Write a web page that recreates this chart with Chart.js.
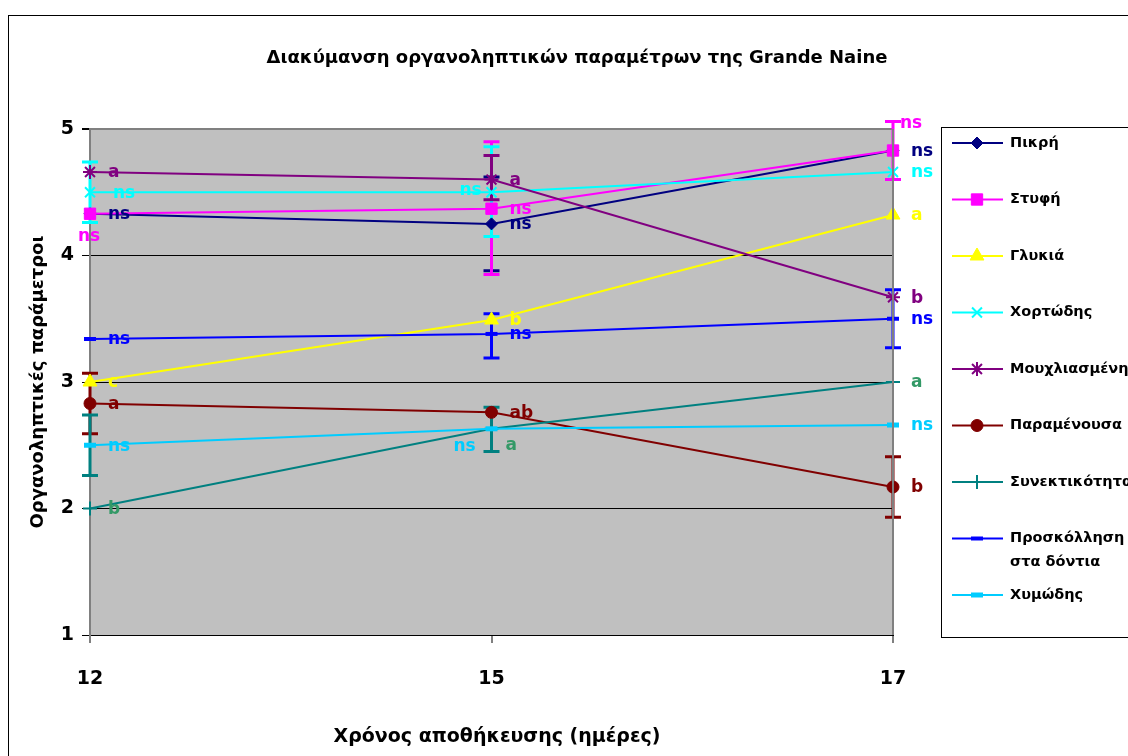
<!DOCTYPE html>
<html>
<head>
<meta charset="utf-8">
<script src="https://cdn.jsdelivr.net/npm/chart.js@4.4.1/dist/chart.umd.min.js"></script>
<style>
  html, body { margin: 0; padding: 0; background: #fff; }
  canvas { display: block; }
</style>
</head>
<body>
<canvas id="chart" width="1128" height="756"></canvas>
<script>
// Storage time (days) and score axis
const days = ['12', '15', '17'];
const yTicks = [1, 2, 3, 4, 5];

const seriesNames = ['Πικρή', 'Στυφή', 'Γλυκιά', 'Χορτώδης', 'Μουχλιασμένη',
  'Παραμένουσα', 'Συνεκτικότητα', ['Προσκόλληση', 'στα δόντια'], 'Χυμώδης'];

// Mean scores per day
const pikri = [4.33, 4.25, 4.83];
const styfi = [4.33, 4.37, 4.83];
const glykia = [3.0, 3.49, 4.32];
const chortodis = [4.5, 4.5, 4.66];
const mouchliasmeni = [4.66, 4.6, 3.67];
const paramenousa = [2.83, 2.76, 2.17];
const synektikotita = [2.0, 2.63, 3.0];
const proskollisi = [3.34, 3.38, 3.5];
const chymodis = [2.5, 2.63, 2.66];

// Error bars [low, high] per day, null = none
const pikriErr = [null, [3.88, 4.62], null];
const styfiErr = [null, [3.85, 4.9], [4.6, 5.06]];
const glykiaErr = [null, null, null];
const chortodisErr = [[4.26, 4.74], [4.15, 4.86], null];
const mouchliasmeniErr = [null, [4.44, 4.79], null];
const paramenousaErr = [[2.59, 3.07], null, [1.93, 2.41]];
const synektikotitaErr = [[2.26, 2.74], [2.45, 2.8], null];
const proskollisiErr = [null, [3.19, 3.54], [3.27, 3.73]];
const chymodisErr = [null, null, null];

// Significance letters
const pikriSig = ['ns', 'ns', 'ns'];
const styfiSig = ['ns', 'ns', 'ns'];
const glykiaSig = ['c', 'b', 'a'];
const chortodisSig = ['ns', 'ns', 'ns'];
const mouchliasmeniSig = ['a', 'a', 'b'];
const paramenousaSig = ['a', 'ab', 'b'];
const synektikotitaSig = ['b', 'a', 'a'];
const proskollisiSig = ['ns', 'ns', 'ns'];
const chymodisSig = ['ns', 'ns', 'ns'];

const values = [pikri, styfi, glykia, chortodis, mouchliasmeni, paramenousa, synektikotita, proskollisi, chymodis];
const errors = [pikriErr, styfiErr, glykiaErr, chortodisErr, mouchliasmeniErr, paramenousaErr, synektikotitaErr, proskollisiErr, chymodisErr];
const letters = [pikriSig, styfiSig, glykiaSig, chortodisSig, mouchliasmeniSig, paramenousaSig, synektikotitaSig, proskollisiSig, chymodisSig];

// styles
const colors = ['#000080', '#FF00FF', '#FFFF00', '#00FFFF', '#800080', '#800000', '#008080', '#0000FF', '#00CCFF'];
const letterColors = ['#000080', '#FF00FF', '#FFFF00', '#00FFFF', '#800080', '#800000', '#339966', '#0000FF', '#00CCFF'];
const pointStyles = ['rectRot', 'rect', 'triangle', 'crossRot', 'star', 'circle', 'cross', 'line', 'line'];
const pointRadii = [6, 8, 8, 7, 7, 6, 7, 6, 6];
const pointBorders = [1, 1, 1, 2, 2, 1, 2, 4, 5];
// letter offsets that differ from the default (right of the point): 'series,day' -> [dx, dy]
const letterOffsets = {
  '1,0': [-12, 23],
  '3,0': [23, 1],
  '3,1': [-32, -2],
  '6,1': [14, 17],
  '8,1': [-38, 18],
  '1,2': [7, -27]
};

const FONT = '"DejaVu Sans", Verdana, sans-serif';

const decor = {
  id: 'decor',
  beforeDraw(chart) {
    const { ctx, chartArea: a } = chart;
    ctx.save();
    ctx.fillStyle = '#fff';
    ctx.fillRect(0, 0, chart.width, chart.height);
    ctx.strokeStyle = '#000';
    ctx.lineWidth = 1;
    ctx.strokeRect(8.5, 15.5, 1300, 900);
    ctx.fillStyle = '#C0C0C0';
    ctx.fillRect(a.left, a.top, a.right - a.left, a.bottom - a.top);
    ctx.restore();
  },
  beforeDatasetsDraw(chart) {
    const { ctx, scales: { x, y } } = chart;
    ctx.save();
    ctx.lineWidth = 3;
    errors.forEach((errs, s) => {
      ctx.strokeStyle = colors[s];
      errs.forEach((e, i) => {
        if (!e) return;
        const px = x.getPixelForValue(i);
        const lo = y.getPixelForValue(e[0]);
        const hi = y.getPixelForValue(e[1]);
        ctx.beginPath();
        ctx.moveTo(px, lo); ctx.lineTo(px, hi);
        ctx.moveTo(px - 8, lo); ctx.lineTo(px + 8, lo);
        ctx.moveTo(px - 8, hi); ctx.lineTo(px + 8, hi);
        ctx.stroke();
      });
    });
    ctx.restore();
  },
  afterDatasetsDraw(chart) {
    const { ctx, chartArea: a, scales: { x, y } } = chart;
    ctx.save();
    ctx.strokeStyle = '#808080';
    ctx.lineWidth = 2;
    ctx.beginPath();
    ctx.moveTo(a.right, a.top); ctx.lineTo(a.right, a.bottom);
    ctx.stroke();

    ctx.font = 'bold 17px ' + FONT;
    ctx.textBaseline = 'middle';
    ctx.textAlign = 'left';
    letters.forEach((arr, s) => {
      ctx.fillStyle = letterColors[s];
      arr.forEach((t, i) => {
        const off = letterOffsets[s + ',' + i] || [18, 1];
        ctx.fillText(t, x.getPixelForValue(i) + off[0], y.getPixelForValue(values[s][i]) + off[1]);
      });
    });
    ctx.restore();
  },
  afterDraw(chart) {
    const { ctx } = chart;
    ctx.save();
    // title and axis titles
    ctx.fillStyle = '#000';
    ctx.textAlign = 'center';
    ctx.textBaseline = 'middle';
    ctx.font = 'bold 18px ' + FONT;
    ctx.fillText('Διακύμανση οργανοληπτικών παραμέτρων της Grande Naine', 577, 58);
    ctx.font = 'bold 19px ' + FONT;
    ctx.fillText('Χρόνος αποθήκευσης (ημέρες)', 497, 737);
    ctx.font = 'bold 18px ' + FONT;
    ctx.save();
    ctx.translate(38, 382);
    ctx.rotate(-Math.PI / 2);
    ctx.fillText('Οργανοληπτικές παράμετροι', 0, 0);
    ctx.restore();

    // legend
    ctx.strokeStyle = '#000';
    ctx.lineWidth = 1;
    ctx.fillStyle = '#fff';
    ctx.fillRect(941.5, 127.5, 300, 510);
    ctx.strokeRect(941.5, 127.5, 300, 510);
    ctx.font = 'bold 14.5px ' + FONT;
    ctx.textAlign = 'left';
    seriesNames.forEach((name, s) => {
      const ly = 143 + s * 56.5;
      ctx.strokeStyle = colors[s];
      ctx.fillStyle = colors[s];
      ctx.lineWidth = 2;
      ctx.beginPath();
      ctx.moveTo(952, ly); ctx.lineTo(1003, ly);
      ctx.stroke();
      ctx.lineWidth = pointBorders[s];
      Chart.helpers.drawPoint(ctx, {
        pointStyle: pointStyles[s], radius: pointRadii[s], borderWidth: pointBorders[s],
        rotation: 0
      }, 977, ly);
      ctx.fillStyle = '#000';
      const lines = Array.isArray(name) ? name : [name];
      lines.forEach((l, k) => ctx.fillText(l, 1010, ly + k * 24));
    });
    ctx.restore();
  }
};

const datasets = values.map((v, s) => ({
  label: Array.isArray(seriesNames[s]) ? seriesNames[s].join(' ') : seriesNames[s],
  data: v,
  borderColor: colors[s],
  backgroundColor: colors[s],
  borderWidth: 2,
  pointStyle: pointStyles[s],
  pointRadius: pointRadii[s],
  pointBorderWidth: pointBorders[s],
  pointBackgroundColor: colors[s],
  pointBorderColor: colors[s],
  tension: 0,
  clip: false,
  order: values.length - s
}));

new Chart(document.getElementById('chart'), {
  type: 'line',
  data: { labels: days, datasets },
  options: {
    responsive: false,
    animation: false,
    devicePixelRatio: 1,
    layout: { padding: { left: 0, top: 129, right: 235, bottom: 0 } },
    plugins: { legend: { display: false }, tooltip: { enabled: false }, title: { display: false } },
    scales: {
      x: {
        type: 'category',
        offset: false,
        afterFit(scale) { scale.height = 121; },
        grid: { drawOnChartArea: false, color: '#808080', tickLength: 8, lineWidth: 2 },
        border: { color: '#000', width: 1 },
        ticks: { color: '#000', padding: 25, font: { family: FONT, size: 19, weight: 'bold' } }
      },
      y: {
        min: yTicks[0],
        max: yTicks[yTicks.length - 1],
        afterFit(scale) { scale.width = 90; },
        afterBuildTicks(scale) { scale.ticks = yTicks.map(v => ({ value: v })); },
        grid: {
          color: c => (c.tick && c.tick.value === 5 ? '#808080' : '#000'),
          lineWidth: c => (c.tick && c.tick.value === 5 ? 2 : 1),
          tickColor: '#000',
          tickLength: 8
        },
        border: { color: '#808080', width: 2 },
        ticks: { color: '#000', padding: 8, font: { family: FONT, size: 19, weight: 'bold' } }
      }
    }
  },
  plugins: [decor]
});
</script>
</body>
</html>
